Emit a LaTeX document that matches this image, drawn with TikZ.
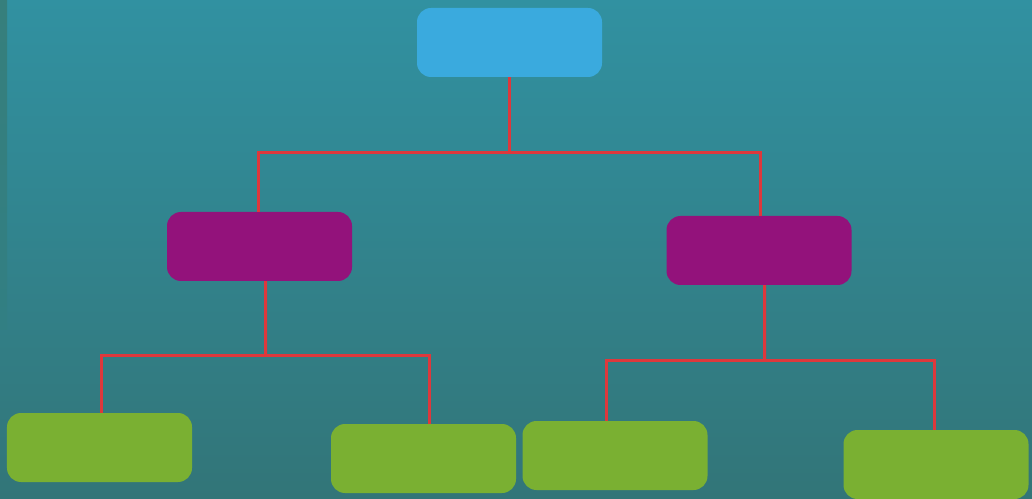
\documentclass[tikz,border=0pt]{standalone}
\usepackage{tikz}
\usetikzlibrary{calc}

\definecolor{bgtop}{RGB}{49,145,161}
\definecolor{bgbot}{RGB}{50,117,120}
\definecolor{bgmid}{RGB}{50,127,131}
\definecolor{bgstrip}{RGB}{54,127,124}
\definecolor{rootblue}{RGB}{58,170,222}
\definecolor{midpurple}{RGB}{147,18,123}
\definecolor{leafgreen}{RGB}{122,176,50}
\definecolor{linkred}{RGB}{222,56,60}

\begin{document}
\begin{tikzpicture}[x=1bp,y=-1bp,
    box/.style={rectangle,rounded corners=14bp,minimum width=185bp,minimum height=69bp,inner sep=0pt},
    rootbox/.style={box,fill=rootblue},
    midbox/.style={box,fill=midpurple},
    leafbox/.style={box,fill=leafgreen},
    link/.style={draw=linkred,line width=3bp}]
        \useasboundingbox (0,0) rectangle (1032,499);
        \shade[top color=bgtop,bottom color=bgbot] (0,0) rectangle (1032,499);
        \shade[top color=bgstrip,bottom color=bgmid] (0,0) rectangle (7,330);

        % level 0
        \node[rootbox] (root) at (509.5,42.5) {};
        % level 1
        \node[midbox] (midL) at (259.5,246.5) {};
        \node[midbox] (midR) at (759,250.5) {};
        % level 2
        \node[leafbox] (leafA) at (99.5,447.5) {};
        \node[leafbox] (leafB) at (423.5,458.5) {};
        \node[leafbox] (leafC) at (615,455.5) {};
        \node[leafbox] (leafD) at (936,464.5) {};

        \coordinate (j0) at (509.5,152.5);
        \coordinate (j1) at (265.5,355.5);
        \coordinate (j2) at (764.5,360.5);

        \begin{scope}[link]
          \draw (root.south) -- (j0);
          \draw (j0) -| ([xshift=-1bp]midL.north);
          \draw (j0) -| ([xshift=1.5bp]midR.north);

          \draw ([xshift=6bp]midL.south) -- (j1);
          \draw (j1) -| ([xshift=2bp]leafA.north);
          \draw (j1) -| ([xshift=6bp]leafB.north);

          \draw ([xshift=5.5bp]midR.south) -- (j2);
          \draw (j2) -| ([xshift=-8.5bp]leafC.north);
          \draw (j2) -| ([xshift=-1.5bp]leafD.north);
        \end{scope}
      \end{tikzpicture}
\end{document}
